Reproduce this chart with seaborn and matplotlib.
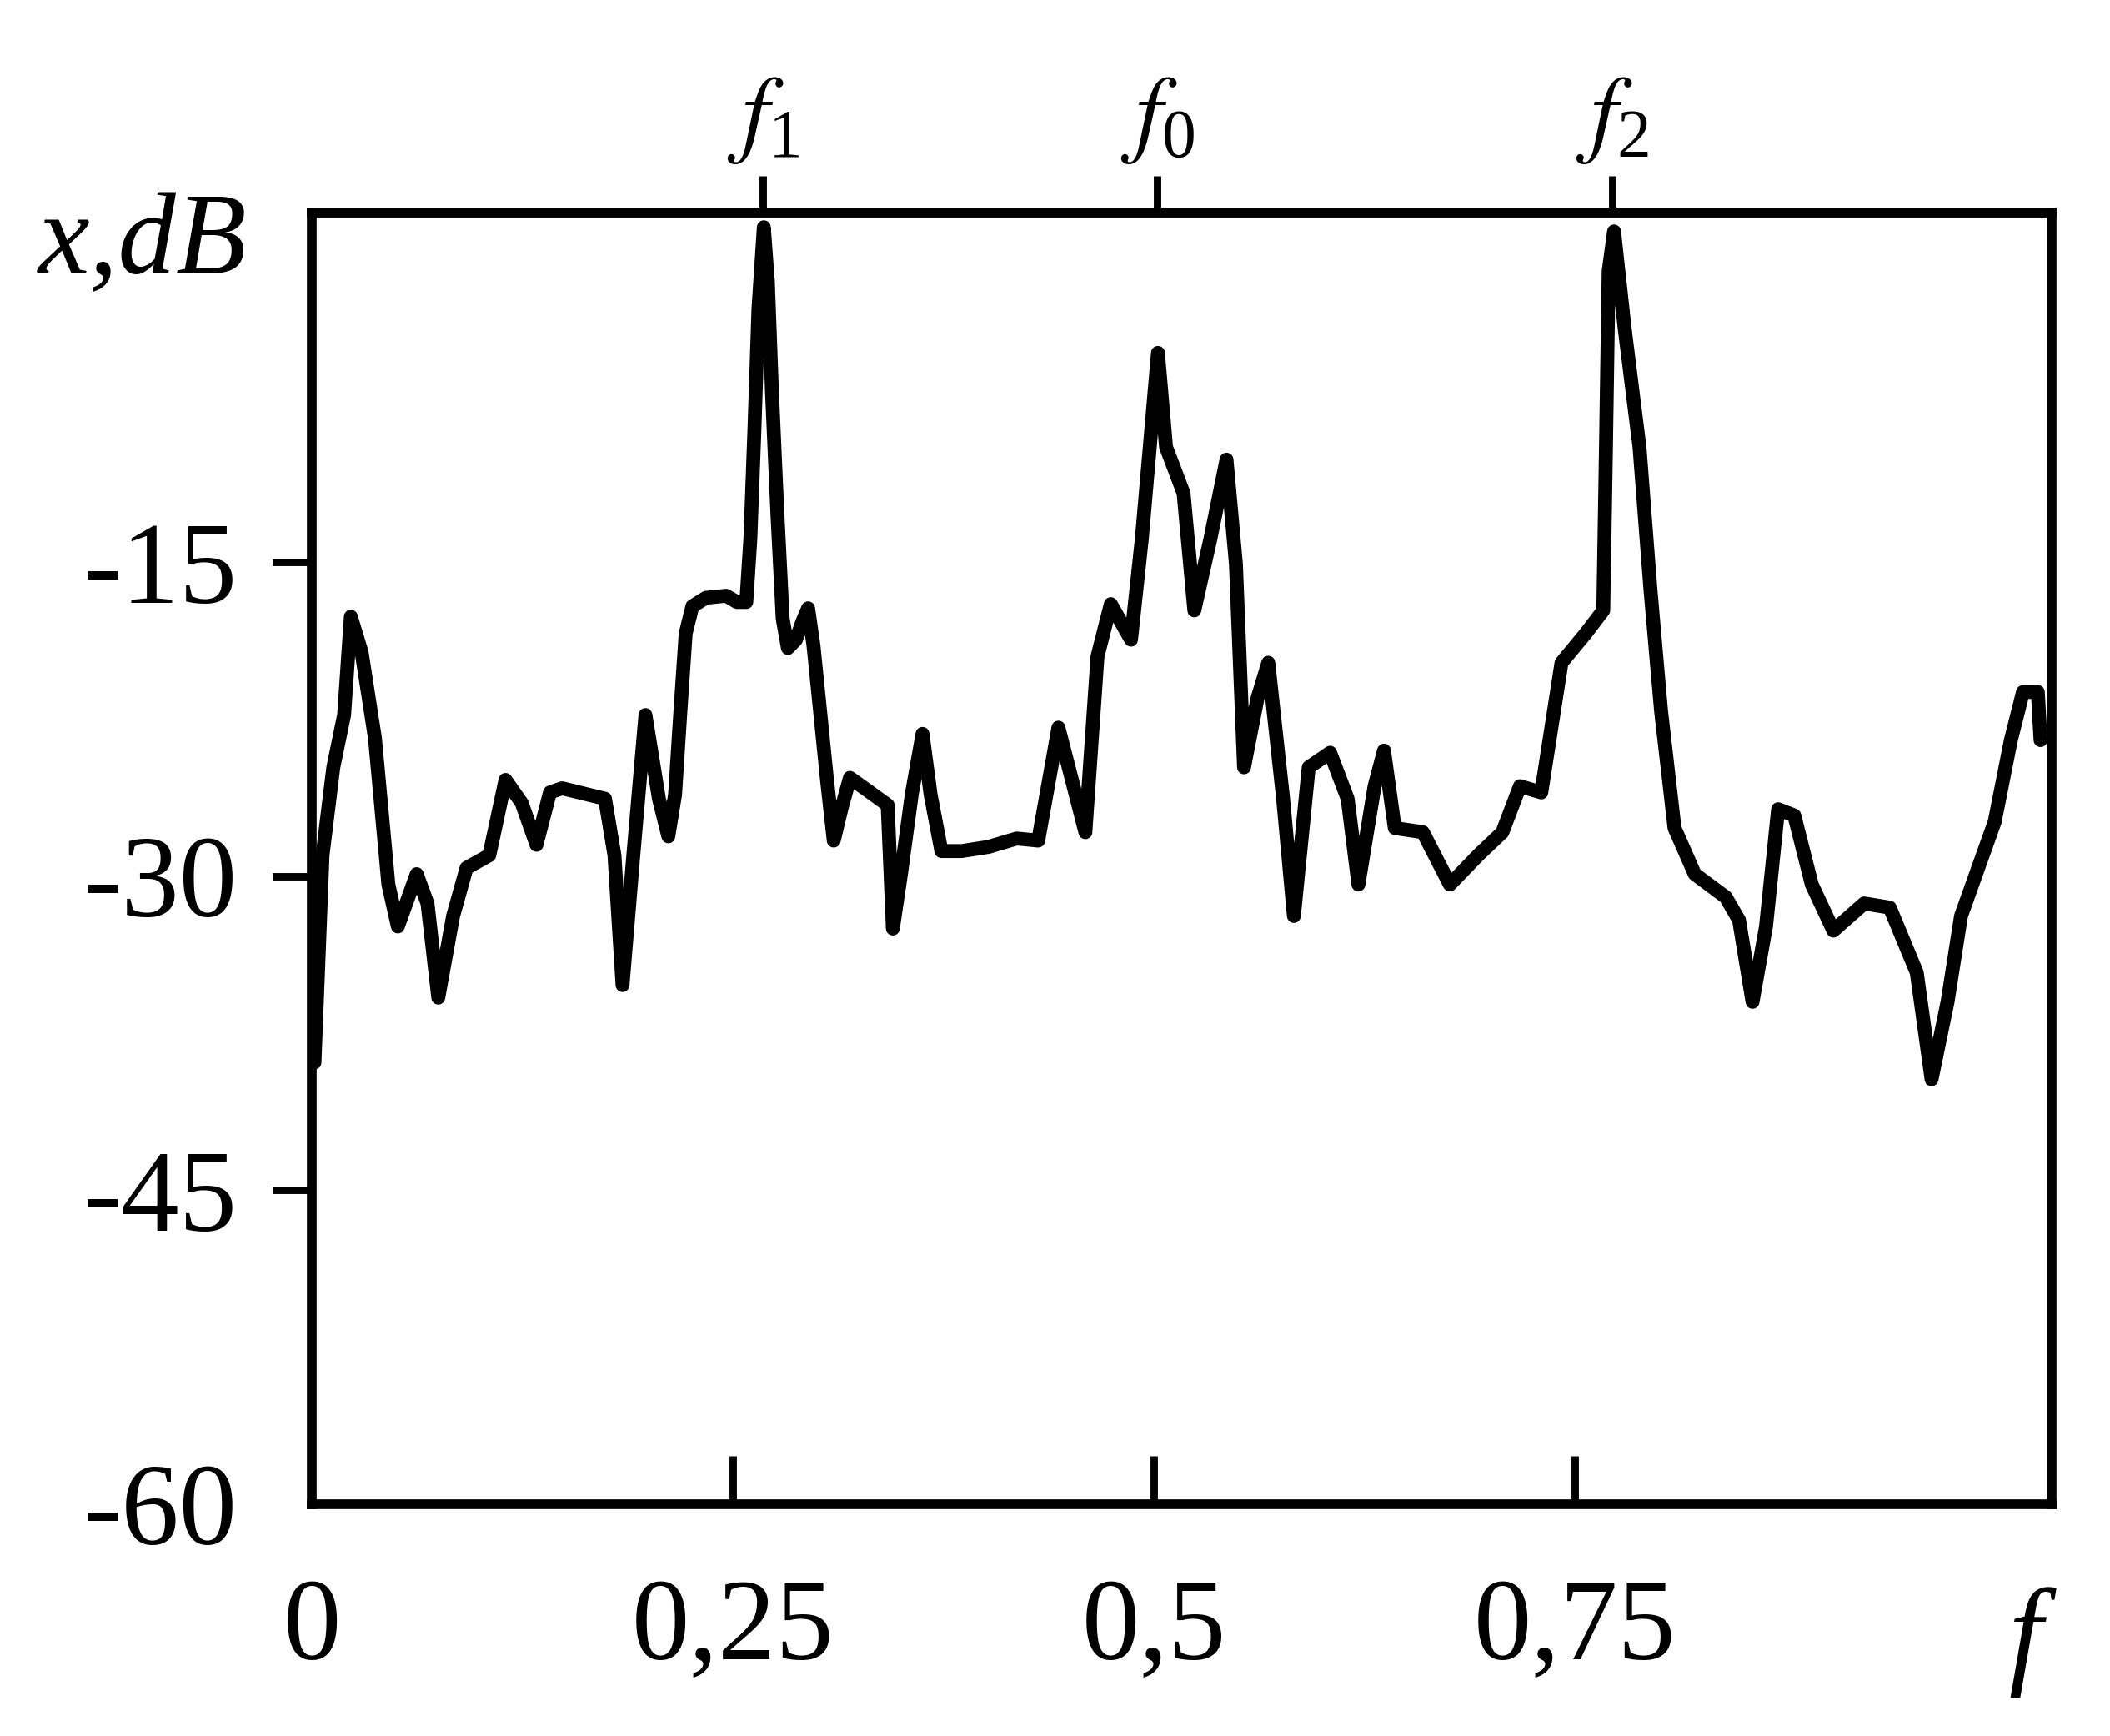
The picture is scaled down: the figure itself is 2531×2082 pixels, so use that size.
import matplotlib
matplotlib.use("Agg")
import matplotlib.pyplot as plt
import pandas as pd
import seaborn as sns

sns.set_theme(style="white")
plt.rcParams['font.family'] = ['Liberation Serif', 'DejaVu Serif']
plt.rcParams['mathtext.fontset'] = 'stix'
plt.rcParams['axes.unicode_minus'] = False
plt.rcParams['text.color'] = 'black'

# spectrum (normalised frequency, level in dB)
freq = [0.0016, 0.0064, 0.0128, 0.0192, 0.0232, 0.0296, 0.0375, 0.0455, 0.0511, 0.0623,
        0.0687, 0.0751, 0.0839, 0.0919, 0.1054, 0.1150, 0.1246, 0.1334, 0.1414, 0.1486,
        0.1741, 0.1797, 0.1845, 0.1909, 0.1981, 0.2061, 0.2117, 0.2157, 0.2188, 0.2220,
        0.2260, 0.2340, 0.2460, 0.2524, 0.2580, 0.2604, 0.2628, 0.2652, 0.2684, 0.2708,
        0.2732, 0.2764, 0.2796, 0.2827, 0.2875, 0.2915, 0.2947, 0.2979, 0.3019, 0.3059,
        0.3099, 0.3147, 0.3195, 0.3299, 0.3419, 0.3450, 0.3498, 0.3562, 0.3626, 0.3674,
        0.3738, 0.3858, 0.4018, 0.4185, 0.4313, 0.4433, 0.4593, 0.4665, 0.4744, 0.4864,
        0.4928, 0.5024, 0.5072, 0.5176, 0.5240, 0.5335, 0.5431, 0.5487, 0.5535, 0.5615,
        0.5679, 0.5767, 0.5831, 0.5919, 0.6046, 0.6150, 0.6214, 0.6310, 0.6366, 0.6430,
        0.6597, 0.6757, 0.6925, 0.7069, 0.7173, 0.7300, 0.7420, 0.7564, 0.7668, 0.7684,
        0.7700, 0.7732, 0.7796, 0.7883, 0.7947, 0.8011, 0.8091, 0.8211, 0.8395, 0.8474,
        0.8554, 0.8634, 0.8706, 0.8802, 0.8906, 0.9034, 0.9217, 0.9369, 0.9529, 0.9617,
        0.9712, 0.9792, 0.9992, 1.0088, 1.0160, 1.0248, 1.0264]
level_db = [-38.9, -29.0, -24.8, -22.3, -17.6, -19.3, -23.4, -30.4, -32.4, -29.9,
            -31.3, -35.8, -31.9, -29.6, -29.0, -25.4, -26.5, -28.5, -26.0, -25.8,
            -26.3, -29.0, -35.2, -29.0, -22.3, -26.3, -28.1, -26.1, -22.2, -18.4,
            -17.1, -16.7, -16.6, -16.9, -16.9, -13.9, -8.7, -2.9, 1.0, -1.6,
            -6.8, -12.6, -17.7, -19.1, -18.7, -17.8, -17.2, -19.0, -22.2, -25.4,
            -28.3, -26.7, -25.3, -25.9, -26.6, -32.5, -29.9, -26.1, -23.2, -26.1,
            -28.8, -28.8, -28.6, -28.2, -28.3, -22.9, -27.9, -19.5, -17.0, -18.7,
            -13.9, -5.0, -9.5, -11.7, -17.3, -13.9, -10.1, -15.1, -24.8, -21.5,
            -19.8, -26.3, -31.9, -24.8, -24.1, -26.3, -30.4, -25.7, -24.0, -27.7,
            -27.9, -30.4, -29.0, -27.9, -25.7, -26.0, -19.8, -18.4, -17.3, -9.5,
            -1.1, 0.8, -3.9, -9.5, -16.2, -22.1, -27.7, -29.9, -31.0, -32.1,
            -36.0, -32.4, -26.8, -27.1, -30.4, -32.6, -31.3, -31.5, -34.6, -39.7,
            -36.0, -31.9, -27.4, -23.5, -21.2, -21.2, -23.5]

peak_freqs = [0.268, 0.502, 0.772]
peak_labels = [r'$f_{\mathregular{1}}$', r'$f_{\mathregular{0}}$', r'$f_{\mathregular{2}}$']
x_ticks = [0, 0.25, 0.5, 0.75]
x_tick_labels = ['0', '0,25', '0,5', '0,75']
y_ticks = [-60, -45, -30, -15]
y_tick_labels = ['-60', '-45', '-30', '-15']

df = pd.DataFrame({'f': freq, 'x_db': level_db})

W, H, DPI = 2531, 2082, 200
fig = plt.figure(figsize=(W / DPI, H / DPI), dpi=DPI)
ax = fig.add_axes([374 / W, 1 - 1804 / H, (2461 - 374) / W, (1804 - 255) / H])

sns.lineplot(data=df, x='f', y='x_db', ax=ax, color='black', linewidth=6,
             estimator=None, sort=False)
ax.lines[0].set_solid_joinstyle('round')

ax.set_xlim(0, 1.033)
ax.set_ylim(-60, 1.7)
ax.set_xlabel('')
ax.set_ylabel('')

for s in ax.spines.values():
    s.set_linewidth(4.2)
    s.set_color('black')

ax.set_xticks(x_ticks, labels=x_tick_labels)
ax.set_yticks(y_ticks, labels=y_tick_labels)
ax.tick_params(axis='x', bottom=True, top=False, direction='in', length=21,
               width=3.2, pad=32, labelsize=50, colors='black')
ax.tick_params(axis='y', left=True, right=False, direction='out', length=17,
               width=3.2, pad=15, labelsize=50, colors='black')
ax.yaxis.get_major_ticks()[0].tick1line.set_visible(False)
ax.xaxis.get_major_ticks()[0].tick1line.set_visible(False)

secax = ax.secondary_xaxis('top')
secax.set_xticks(peak_freqs, labels=peak_labels)
secax.tick_params(direction='out', length=16, width=3.2, pad=4, labelsize=42,
                  colors='black')
secax.spines['top'].set_linewidth(4.2)

ax.text(-0.097, 0.953, 'x,dB', transform=ax.transAxes, ha='center',
        va='baseline', fontsize=50, style='italic', color='black')
ax.text(0.985, -0.130, 'f', transform=ax.transAxes, ha='center',
        va='baseline', fontsize=52, style='italic', color='black')

fig.savefig('out.png', dpi=DPI, facecolor='white')
